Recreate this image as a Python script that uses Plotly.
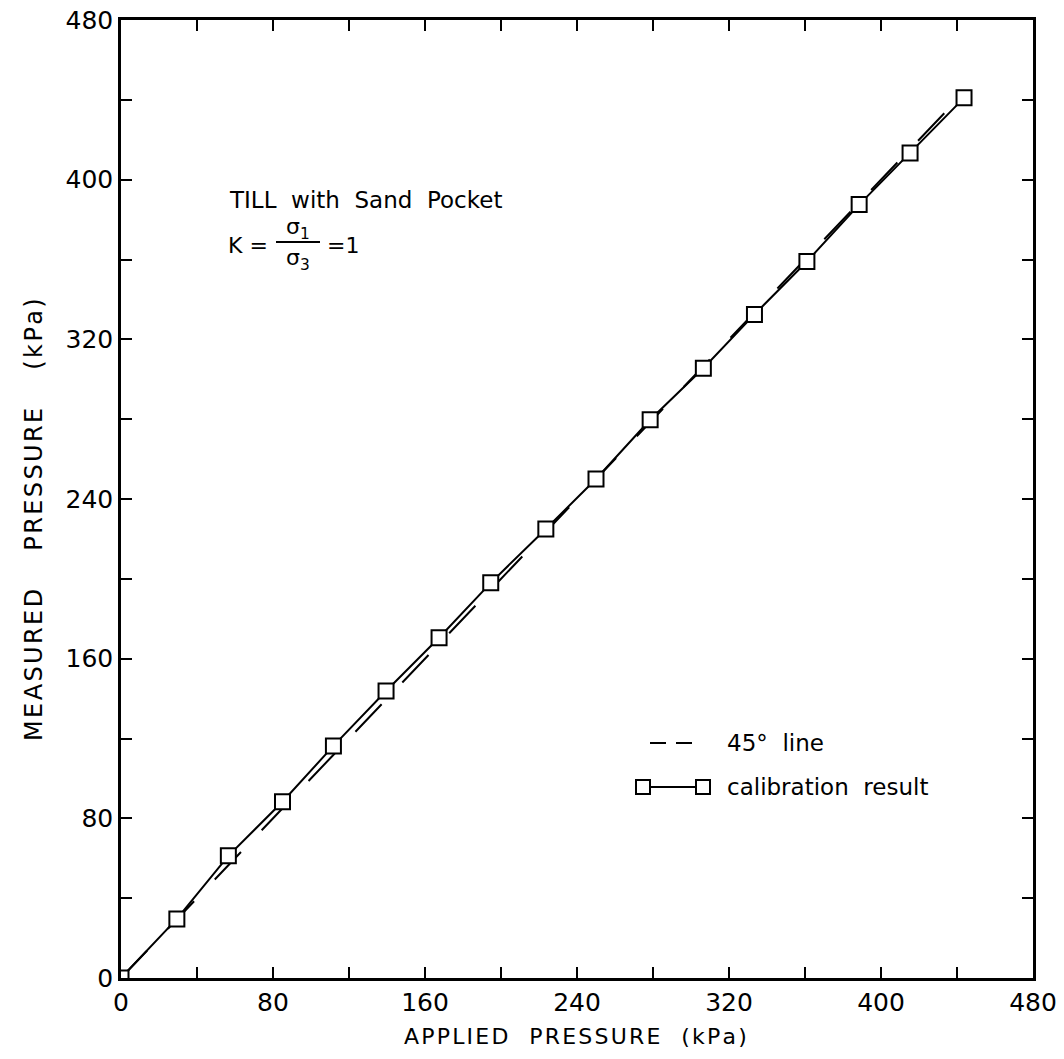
import plotly.graph_objects as go

# Data
applied = [0, 29.4, 56.5, 85, 111.8, 139.5, 167.4, 194.6, 223.6, 250, 278.5,
           306.5, 333.4, 361, 388.5, 415.3, 443.7]
measured = [0, 29.6, 61.2, 88.3, 116.3, 143.8, 170.5, 198, 225, 250, 279.7,
            305.5, 332.5, 359, 387.5, 413.3, 441]
line45 = [0, 443]
major_ticks = [0, 80, 160, 240, 320, 400, 480]

FONT = "DejaVu Sans"
W, H = 1064, 1059
L, R, T, B = 121, 1033, 20, 978
HS = "\u200a"  # hair space used as light letter spacing


def spaced(word):
    return HS.join(word)


def px(xp):
    return (xp - L) / (R - L)


def py(yp):
    return (B - yp) / (B - T)


fig = go.Figure()
fig.add_trace(go.Scatter(x=line45, y=line45, mode='lines',
                         line=dict(color='black', width=2, dash='38px,30px'),
                         showlegend=False, hoverinfo='skip'))
fig.add_trace(go.Scatter(x=applied, y=measured, mode='lines+markers',
                         line=dict(color='black', width=2),
                         marker=dict(symbol='square', size=15, color='white',
                                     line=dict(color='black', width=2)),
                         showlegend=False))

axis_common = dict(range=[0, 480], tickvals=major_ticks,
                   ticks='inside', ticklen=11, tickwidth=2, tickcolor='black',
                   minor=dict(dtick=40, tick0=0, ticks='inside', ticklen=11,
                              tickwidth=2, tickcolor='black', showgrid=False),
                   showline=True, linecolor='black', linewidth=2.5,
                   mirror='ticks', showgrid=False, zeroline=False,
                   tickfont=dict(family=FONT, size=25, color='black'))
fig.update_xaxes(**axis_common)
fig.update_yaxes(**axis_common)

xtitle = "   ".join([spaced("APPLIED"), spaced("PRESSURE"), spaced("(kPa)")])
ytitle = "     ".join([spaced("MEASURED"), spaced("PRESSURE"), spaced("(kPa)")])

annotations = [
    dict(text=xtitle, x=px(575), y=py(1036), font=dict(size=22)),
    dict(text=ytitle, x=px(34), y=py(520), textangle=-90, font=dict(size=24)),
    dict(text="TILL  with  Sand  Pocket", x=px(227), y=py(200),
         xanchor='left', font=dict(size=23)),
    dict(text="K =", x=px(226), y=py(245), xanchor='left', font=dict(size=22)),
    dict(text="σ<sub>1</sub>", x=px(298), y=py(228), font=dict(size=22)),
    dict(text="σ<sub>3</sub>", x=px(298), y=py(259), font=dict(size=22)),
    dict(text="=1", x=px(325), y=py(245), xanchor='left', font=dict(size=22)),
    dict(text="45°  line", x=px(725), y=py(743), xanchor='left',
         font=dict(size=23)),
    dict(text="calibration  result", x=px(725), y=py(787), xanchor='left',
         font=dict(size=23)),
]
for a in annotations:
    a.setdefault('xanchor', 'center')
    a.update(xref='paper', yref='paper', showarrow=False, yanchor='middle')
    a['font'] = dict(family=FONT, color='black', **a['font'])
fig.update_layout(annotations=annotations)

shapes = [
    # fraction bar
    dict(type='line', x0=px(276), x1=px(320), y0=py(242), y1=py(242)),
    # legend: dashed line
    dict(type='line', x0=px(650), x1=px(666), y0=py(743), y1=py(743)),
    dict(type='line', x0=px(676), x1=px(692), y0=py(743), y1=py(743)),
    # legend: calibration sample
    dict(type='line', x0=px(643), x1=px(703), y0=py(787), y1=py(787)),
    dict(type='rect', x0=px(636), x1=px(650), y0=py(794), y1=py(780),
         fillcolor='white'),
    dict(type='rect', x0=px(696), x1=px(710), y0=py(794), y1=py(780),
         fillcolor='white'),
]
for s in shapes:
    s.update(xref='paper', yref='paper', line=dict(color='black', width=2))
fig.update_layout(shapes=shapes)

fig.update_layout(width=W, height=H, plot_bgcolor='white', paper_bgcolor='white',
                  margin=dict(l=L, r=W - R, t=T, b=H - B, autoexpand=False),
                  font=dict(family=FONT, color='black'))

fig.write_html("out.html")
